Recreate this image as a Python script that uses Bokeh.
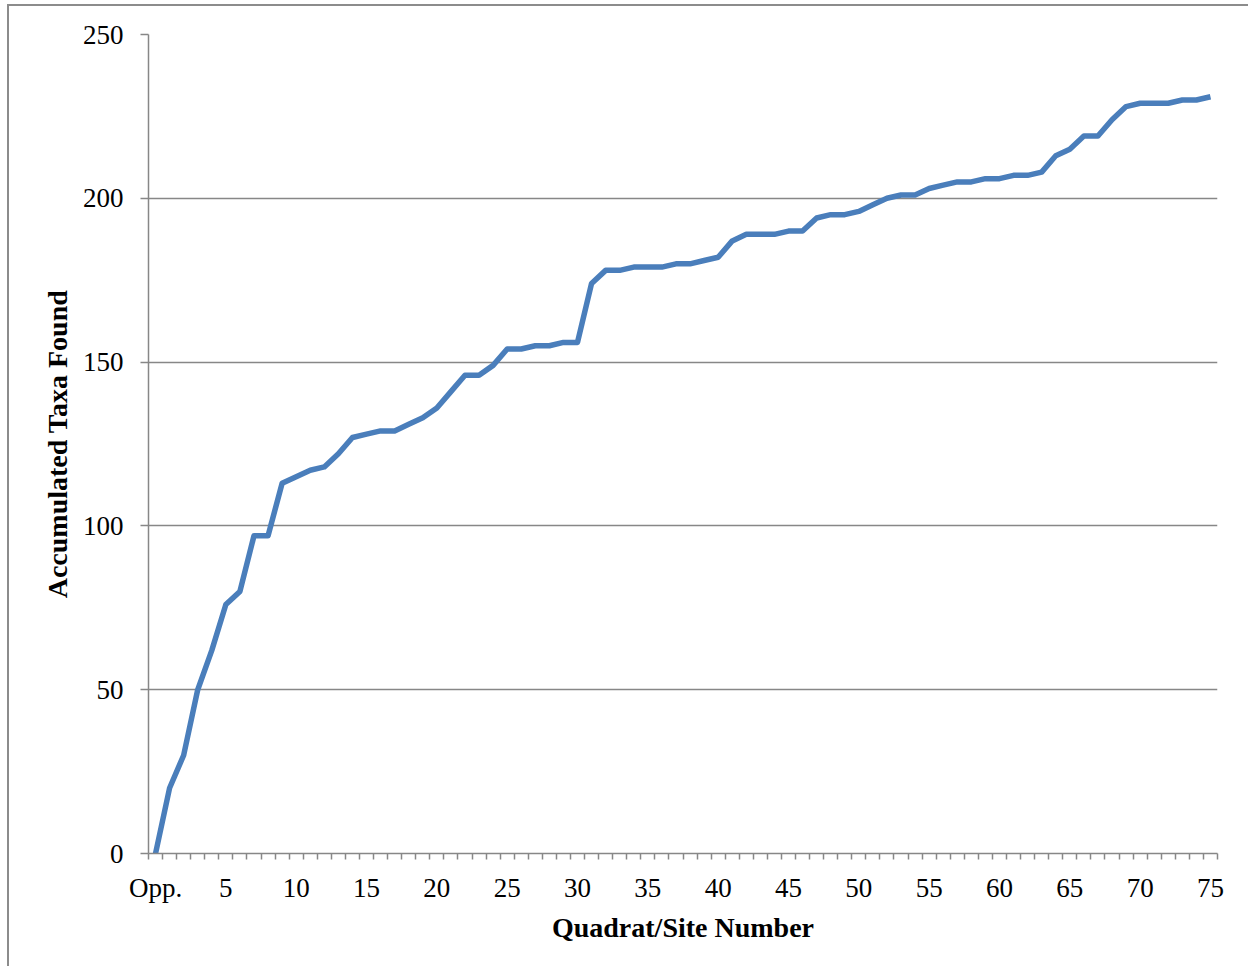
from bokeh.plotting import figure
from bokeh.models import FixedTicker, ColumnDataSource
from bokeh.embed import file_html
from bokeh.resources import INLINE

# Site index: 0 = "Opp." (opportunistic), then quadrats 1..75
site_index = list(range(0, 76))
accumulated_taxa = [
    0, 20, 30, 50, 62, 76, 80, 97, 97, 113,
    115, 117, 118, 122, 127, 128, 129, 129, 131, 133,
    136, 141, 146, 146, 149, 154, 154, 155, 155, 156,
    156, 174, 178, 178, 179, 179, 179, 180, 180, 181,
    182, 187, 189, 189, 189, 190, 190, 194, 195, 195,
    196, 198, 200, 201, 201, 203, 204, 205, 205, 206,
    206, 207, 207, 208, 213, 215, 219, 219, 224, 228,
    229, 229, 229, 230, 230, 231,
]
x_tick_values = list(range(0, 76, 5))
x_tick_labels = ["Opp."] + [str(v) for v in x_tick_values[1:]]
y_tick_values = [0, 50, 100, 150, 200, 250]

FONT = "Liberation Serif"
GRAY = "#878787"

src = ColumnDataSource(dict(x=site_index, y=accumulated_taxa))

p = figure(
    width=1241, height=962,
    x_range=(-0.5, 75.5), y_range=(0, 250),
    output_backend="svg", toolbar_location=None,
    min_border_left=139, min_border_right=33,
    min_border_top=28, min_border_bottom=115,
)
# outer chart-area border (left and top edges visible in the reference)
p.styles = {"margin-left": "7px", "margin-top": "4px",
            "border-left": "2px solid #8c8c8c", "border-top": "2px solid #8c8c8c"}

p.line("x", "y", source=src, line_color="#4a7ebb", line_width=5.5, line_join="round")

p.outline_line_color = None
p.background_fill_color = "white"
p.border_fill_color = "white"

# X axis
xa = p.xaxis[0]
xa.ticker = FixedTicker(ticks=x_tick_values,
                        minor_ticks=[i - 0.5 for i in site_index] + [75.5])
xa.major_label_overrides = {v: l for v, l in zip(x_tick_values, x_tick_labels)}
xa.major_tick_line_color = None
xa.major_tick_out = 0
xa.major_tick_in = 0
xa.minor_tick_line_color = GRAY
xa.minor_tick_line_width = 1.5
xa.minor_tick_out = 6
xa.minor_tick_in = 0
xa.axis_line_color = GRAY
xa.axis_line_width = 1.5
xa.major_label_standoff = 13
xa.major_label_text_font = FONT
xa.major_label_text_font_size = "27px"
xa.major_label_text_color = "black"
xa.axis_label = "Quadrat/Site Number"
xa.axis_label_text_font = FONT
xa.axis_label_text_font_style = "bold"
xa.axis_label_text_font_size = "28px"
xa.axis_label_text_color = "black"
xa.axis_label_standoff = 6

# Y axis
ya = p.yaxis[0]
ya.ticker = FixedTicker(ticks=y_tick_values)
ya.major_tick_line_color = GRAY
ya.major_tick_line_width = 1.5
ya.major_tick_out = 8
ya.major_tick_in = 0
ya.minor_tick_line_color = None
ya.axis_line_color = GRAY
ya.axis_line_width = 1.5
ya.major_label_standoff = 17
ya.major_label_text_font = FONT
ya.major_label_text_font_size = "27px"
ya.major_label_text_color = "black"
ya.axis_label = "Accumulated Taxa Found"
ya.axis_label_text_font = FONT
ya.axis_label_text_font_style = "bold"
ya.axis_label_text_font_size = "28px"
ya.axis_label_text_color = "black"
ya.axis_label_standoff = 7

p.xgrid.grid_line_color = None
p.ygrid.grid_line_color = GRAY
p.ygrid.grid_line_width = 1.5

open("out.html", "w").write(file_html(p, INLINE))
